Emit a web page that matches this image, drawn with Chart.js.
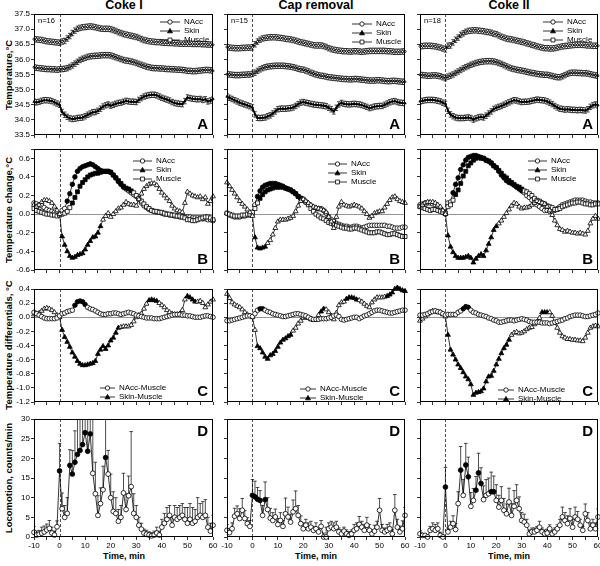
<!DOCTYPE html>
<html>
<head>
<meta charset="utf-8">
<script src="https://cdn.jsdelivr.net/npm/chart.js@4.4.1/dist/chart.umd.min.js"></script>
<style>
  body { margin: 0; background: #fff; width: 600px; height: 566px; position: relative; overflow: hidden;
         font-family: "Liberation Sans", Arial, sans-serif; }
  canvas { position: absolute; }
  .t { position: absolute; font-weight: bold; color: #000; white-space: nowrap; }
  .col { top: -2px; font-size: 12.5px; transform: translateX(-50%); }
  .yt { left: 8px; font-size: 9.5px; transform: translate(-50%, -50%) rotate(-90deg); }
  .xt { top: 551px; font-size: 9px; transform: translateX(-50%); }
</style>
</head>
<body>
<div class="t col" style="left:124px">Coke I</div>
<div class="t col" style="left:316px">Cap removal</div>
<div class="t col" style="left:509px">Coke II</div>
<div class="t yt" style="top:75px">Temperature,°C</div>
<div class="t yt" style="top:210px">Temperature change,°C</div>
<div class="t yt" style="top:345px">Temperature differentials, °C</div>
<div class="t yt" style="top:478px">Locomotion, counts/min</div>
<div class="t xt" style="left:124px">Time, min</div>
<div class="t xt" style="left:316px">Time, min</div>
<div class="t xt" style="left:509px">Time, min</div>
<script>
// ---- Data (1-min bins from -10 to 60 min) ----
var TIME = [-10,-9,-8,-7,-6,-5,-4,-3,-2,-1,0,1,2,3,4,5,6,7,8,9,10,11,12,13,14,15,16,17,18,19,20,
  21,22,23,24,25,26,27,28,29,30,31,32,33,34,35,36,37,38,39,40,41,42,43,44,45,46,47,48,49,50,
  51,52,53,54,55,56,57,58,59,60];

var SEM_A = 0.09; // typical error bar in the absolute temperature panels

// Coke I
var c1A_nacc = [36.67,36.66,36.65,36.64,36.62,36.60,36.59,36.58,36.57,36.56,36.55,
  36.59,36.61,36.69,36.77,36.87,36.95,37.01,37.04,37.06,37.07,
  37.08,37.09,37.08,37.06,37.04,37.02,37.01,37.01,37.01,37.00,
  36.97,36.94,36.90,36.87,36.84,36.82,36.80,36.78,36.76,36.74,
  36.71,36.67,36.64,36.62,36.60,36.59,36.58,36.57,36.57,36.56,
  36.55,36.55,36.54,36.54,36.53,36.53,36.52,36.52,36.52,36.52,
  36.52,36.51,36.51,36.51,36.51,36.50,36.50,36.49,36.49,36.48];
var c1A_muscle = [35.74,35.72,35.71,35.70,35.69,35.68,35.68,35.67,35.67,35.66,35.67,
  35.68,35.69,35.71,35.75,35.80,35.86,35.92,35.98,36.02,36.05,
  36.08,36.10,36.11,36.12,36.12,36.13,36.14,36.14,36.14,36.13,
  36.10,36.07,36.04,36.01,35.98,35.96,35.95,35.93,35.91,35.88,
  35.85,35.82,35.79,35.76,35.74,35.72,35.71,35.71,35.70,35.70,
  35.69,35.68,35.68,35.67,35.67,35.66,35.66,35.65,35.64,35.62,
  35.62,35.61,35.61,35.62,35.63,35.64,35.65,35.65,35.64,35.62];
var c1A_skin = [34.60,34.58,34.60,34.63,34.65,34.65,34.64,34.62,34.58,34.54,34.50,
  34.26,34.17,34.10,34.05,34.03,34.04,34.06,34.07,34.08,34.12,
  34.17,34.21,34.25,34.26,34.30,34.37,34.44,34.48,34.51,34.47,
  34.50,34.53,34.56,34.57,34.60,34.63,34.61,34.60,34.60,34.59,
  34.66,34.72,34.77,34.80,34.82,34.83,34.83,34.81,34.77,34.73,
  34.70,34.67,34.64,34.59,34.56,34.54,34.53,34.52,34.62,34.74,
  34.72,34.70,34.69,34.68,34.69,34.66,34.68,34.61,34.64,34.69];
var c1B_nacc = [0.12,0.11,0.10,0.09,0.07,0.05,0.04,0.03,0.02,0.01,0.00,
  0.04,0.06,0.14,0.22,0.32,0.40,0.46,0.49,0.51,0.52,
  0.53,0.54,0.53,0.51,0.49,0.47,0.46,0.46,0.46,0.45,
  0.42,0.39,0.35,0.32,0.29,0.27,0.25,0.23,0.21,0.19,
  0.16,0.12,0.09,0.07,0.05,0.04,0.03,0.02,0.02,0.01,
  0.00,0.00,-0.01,-0.01,-0.02,-0.02,-0.03,-0.03,-0.03,-0.03,
  -0.03,-0.04,-0.04,-0.04,-0.04,-0.05,-0.05,-0.06,-0.06,-0.07];
var c1B_muscle = [0.06,0.04,0.03,0.02,0.01,0.00,0.00,-0.01,-0.01,-0.02,-0.01,
  0.00,0.01,0.03,0.07,0.12,0.18,0.24,0.30,0.34,0.37,
  0.40,0.42,0.43,0.44,0.44,0.45,0.46,0.46,0.46,0.45,
  0.42,0.39,0.36,0.33,0.30,0.28,0.27,0.25,0.23,0.20,
  0.17,0.14,0.11,0.08,0.06,0.04,0.03,0.03,0.02,0.02,
  0.01,0.00,0.00,-0.01,-0.01,-0.02,-0.02,-0.03,-0.04,-0.06,
  -0.06,-0.07,-0.07,-0.06,-0.05,-0.04,-0.03,-0.03,-0.04,-0.06];
var c1B_skin = [0.10,0.08,0.10,0.13,0.15,0.15,0.14,0.12,0.08,0.04,0.00,
  -0.24,-0.33,-0.40,-0.45,-0.47,-0.46,-0.44,-0.43,-0.42,-0.38,
  -0.33,-0.29,-0.25,-0.24,-0.20,-0.13,-0.06,-0.02,0.01,-0.03,
  0.00,0.03,0.06,0.07,0.10,0.13,0.11,0.10,0.10,0.09,
  0.16,0.22,0.27,0.30,0.32,0.33,0.33,0.31,0.27,0.23,
  0.20,0.17,0.14,0.09,0.06,0.04,0.03,0.02,0.12,0.24,
  0.22,0.20,0.19,0.18,0.19,0.16,0.18,0.11,0.14,0.19];
var c1C_nm = [0.07,0.05,0.03,0.01,-0.01,-0.02,-0.02,-0.02,-0.02,-0.01,0.02,
  0.05,0.06,0.08,0.09,0.10,0.17,0.22,0.23,0.22,0.18,
  0.14,0.12,0.11,0.09,0.07,0.05,0.04,0.04,0.05,0.05,
  0.06,0.06,0.05,0.04,0.05,0.06,0.07,0.06,0.05,0.03,
  0.02,0.01,0.00,-0.01,-0.01,-0.01,-0.02,-0.02,-0.02,-0.01,
  0.00,0.01,0.02,0.03,0.04,0.04,0.04,0.03,0.03,0.02,
  0.02,0.01,0.00,0.00,0.00,0.01,0.02,0.02,0.01,0.00];
var c1C_sm = [0.04,0.05,0.06,0.09,0.12,0.13,0.12,0.10,0.07,0.03,0.00,
  -0.18,-0.28,-0.35,-0.42,-0.50,-0.56,-0.62,-0.66,-0.68,-0.68,
  -0.67,-0.66,-0.65,-0.62,-0.52,-0.46,-0.41,-0.45,-0.40,-0.33,
  -0.29,-0.22,-0.15,-0.14,-0.13,-0.13,-0.13,-0.11,-0.06,0.00,
  0.03,0.05,0.12,0.19,0.24,0.25,0.24,0.23,0.20,0.17,
  0.14,0.10,0.07,0.05,0.04,0.04,0.05,0.10,0.25,0.30,
  0.28,0.25,0.22,0.22,0.23,0.20,0.14,0.18,0.22,0.25];
var c1D_loco = [1.2,0.5,0.7,1.0,1.3,1.8,2.2,1.0,0.5,2.6,16.8,
  7.2,5.0,6.0,18.2,16.0,19.0,21.0,22.0,23.5,26.5,
  21.8,26.2,16.2,11.0,5.5,8.5,12.0,20.2,16.0,10.0,
  6.5,6.0,4.0,5.0,11.2,7.0,10.5,12.8,6.0,5.0,
  3.0,2.0,1.0,0.7,0.5,0.3,0.5,1.0,0.5,2.5,
  3.5,4.5,5.5,3.0,5.0,4.5,5.0,5.5,4.5,3.5,
  4.5,3.5,4.0,5.0,5.5,5.0,5.5,2.5,1.5,3.0];
var c1D_err = [1.5,1.0,1.0,1.5,1.5,1.5,2.0,1.5,1.0,1.5,7.0,
  4.0,3.0,4.0,4.0,6.0,8.0,10,10,10,10,
  10,10,14,8.0,5.0,4.0,6.0,10,6.0,6.0,
  5.0,4.0,3.0,3.0,5.0,4.0,5.0,14,5.0,3.0,
  2.0,1.5,1.0,1.0,0.8,0.8,1.0,1.5,1.0,2.0,
  2.5,3.0,2.5,2.0,3.0,3.0,3.0,3.0,3.0,4.0,
  4.0,4.0,3.0,5.0,3.0,4.0,4.0,2.5,2.0,2.5];

// Cap removal
var c2A_nacc = [36.41,36.39,36.38,36.37,36.37,36.37,36.38,36.38,36.39,36.39,36.40,
  36.50,36.59,36.65,36.69,36.71,36.72,36.73,36.73,36.73,36.72,
  36.71,36.70,36.68,36.67,36.66,36.64,36.62,36.59,36.57,36.55,
  36.53,36.51,36.49,36.47,36.46,36.46,36.46,36.44,36.41,36.37,
  36.34,36.32,36.30,36.29,36.28,36.27,36.27,36.26,36.26,36.27,
  36.27,36.26,36.25,36.26,36.27,36.28,36.28,36.28,36.28,36.28,
  36.28,36.28,36.27,36.27,36.26,36.25,36.25,36.25,36.26,36.26];
var c2A_muscle = [35.51,35.50,35.49,35.48,35.48,35.48,35.49,35.49,35.50,35.50,35.52,
  35.56,35.62,35.67,35.71,35.74,35.76,35.77,35.78,35.79,35.79,
  35.79,35.79,35.78,35.77,35.76,35.74,35.72,35.69,35.67,35.66,
  35.63,35.60,35.56,35.53,35.50,35.48,35.46,35.45,35.43,35.41,
  35.40,35.39,35.38,35.37,35.36,35.35,35.35,35.34,35.34,35.35,
  35.35,35.34,35.33,35.32,35.31,35.30,35.30,35.30,35.31,35.31,
  35.30,35.29,35.28,35.28,35.29,35.29,35.28,35.27,35.26,35.26];
var c2A_skin = [34.77,34.73,34.69,34.65,34.61,34.57,34.54,34.51,34.48,34.45,34.41,
  34.18,34.07,34.06,34.07,34.08,34.12,34.15,34.21,34.28,34.35,
  34.37,34.37,34.37,34.38,34.39,34.41,34.46,34.52,34.57,34.59,
  34.57,34.55,34.53,34.51,34.50,34.49,34.48,34.47,34.45,34.40,
  34.35,34.28,34.40,34.51,34.56,34.53,34.52,34.51,34.52,34.53,
  34.52,34.51,34.49,34.46,34.43,34.39,34.41,34.44,34.45,34.46,
  34.46,34.50,34.54,34.58,34.61,34.62,34.59,34.57,34.56,34.55];
var c2B_nacc = [0.01,-0.01,-0.02,-0.03,-0.03,-0.03,-0.02,-0.02,-0.01,-0.01,0.00,
  0.10,0.19,0.25,0.29,0.31,0.32,0.33,0.33,0.33,0.32,
  0.31,0.30,0.28,0.27,0.26,0.24,0.22,0.19,0.17,0.15,
  0.13,0.11,0.09,0.07,0.06,0.06,0.06,0.04,0.01,-0.03,
  -0.06,-0.08,-0.10,-0.11,-0.12,-0.13,-0.13,-0.14,-0.14,-0.13,
  -0.13,-0.14,-0.15,-0.14,-0.13,-0.12,-0.12,-0.12,-0.12,-0.12,
  -0.12,-0.12,-0.13,-0.13,-0.14,-0.15,-0.15,-0.15,-0.14,-0.14];
var c2B_muscle = [0.01,0.00,-0.01,-0.02,-0.02,-0.02,-0.01,-0.01,0.00,0.00,0.02,
  0.06,0.12,0.17,0.21,0.24,0.26,0.27,0.28,0.29,0.29,
  0.29,0.29,0.28,0.27,0.26,0.24,0.22,0.19,0.17,0.16,
  0.13,0.10,0.06,0.03,0.00,-0.02,-0.04,-0.05,-0.07,-0.09,
  -0.10,-0.11,-0.12,-0.13,-0.14,-0.15,-0.15,-0.16,-0.16,-0.15,
  -0.15,-0.16,-0.17,-0.18,-0.19,-0.20,-0.20,-0.20,-0.19,-0.19,
  -0.20,-0.21,-0.22,-0.22,-0.21,-0.21,-0.22,-0.23,-0.24,-0.24];
var c2B_skin = [0.34,0.30,0.26,0.22,0.18,0.14,0.11,0.08,0.05,0.02,-0.02,
  -0.25,-0.36,-0.37,-0.36,-0.35,-0.31,-0.28,-0.22,-0.15,-0.08,
  -0.06,-0.06,-0.06,-0.05,-0.04,-0.02,0.03,0.09,0.14,0.16,
  0.14,0.12,0.10,0.08,0.07,0.06,0.05,0.04,0.02,-0.03,
  -0.08,-0.15,-0.03,0.08,0.13,0.10,0.09,0.08,0.09,0.10,
  0.09,0.08,0.06,0.03,0.00,-0.04,-0.02,0.01,0.02,0.03,
  0.03,0.07,0.11,0.15,0.18,0.19,0.16,0.14,0.13,0.12];
var c2C_nm = [-0.05,-0.05,-0.04,-0.03,-0.02,-0.01,0.00,0.01,0.02,0.02,0.01,
  0.05,0.10,0.12,0.12,0.10,0.08,0.07,0.05,0.04,0.03,
  0.02,0.01,0.01,0.02,0.03,0.04,0.05,0.05,0.04,0.03,
  0.02,0.00,-0.02,-0.03,-0.03,-0.03,-0.02,-0.02,-0.02,-0.01,
  0.00,0.02,0.03,0.01,-0.03,-0.04,-0.03,-0.02,-0.01,0.00,
  0.00,-0.02,0.00,0.02,0.03,0.05,0.07,0.09,0.10,0.10,
  0.09,0.08,0.07,0.06,0.06,0.07,0.08,0.09,0.10,0.10];
var c2C_sm = [0.33,0.27,0.21,0.18,0.16,0.14,0.11,0.07,0.04,0.02,0.00,
  -0.18,-0.41,-0.44,-0.50,-0.56,-0.59,-0.54,-0.52,-0.48,-0.42,
  -0.36,-0.32,-0.30,-0.27,-0.25,-0.19,-0.15,-0.09,-0.05,-0.01,
  0.00,-0.01,-0.03,-0.04,-0.04,0.03,0.08,0.12,0.11,0.07,
  0.02,-0.03,0.06,0.17,0.21,0.22,0.26,0.28,0.28,0.27,
  0.25,0.24,0.22,0.19,0.16,0.14,0.21,0.25,0.28,0.28,
  0.28,0.29,0.30,0.32,0.35,0.40,0.42,0.40,0.38,0.37];
var c2D_loco = [1.7,1.1,2.1,5.3,5.9,4.7,6.8,4.7,3.4,2.7,10.6,
  10.2,9.6,9.3,5.5,9.5,7.0,4.8,4.2,5.1,3.2,
  4.2,2.7,5.9,5.1,3.8,6.4,7.2,5.5,3.4,2.1,
  3.0,2.1,2.5,1.7,2.1,1.3,2.7,0.0,0.0,2.1,
  2.5,2.1,2.5,1.3,0.8,1.5,0.8,0.4,0.8,1.7,
  2.1,3.2,2.5,1.7,3.0,1.7,0.8,1.5,2.5,6.8,
  1.7,1.3,1.7,2.1,0.8,6.8,2.5,1.3,2.1,5.5];
var c2D_err = [1.5,1.0,1.5,2.0,2.0,2.5,3.0,2.0,1.5,1.5,4.0,
  4.0,3.0,2.5,2.5,4.5,3.0,2.5,2.0,2.0,1.5,
  2.0,1.5,4.0,2.5,2.0,3.0,4.5,2.5,2.0,1.5,
  1.5,1.5,1.5,1.0,1.5,1.0,1.5,1.0,2.5,1.5,
  1.5,1.5,1.5,1.0,1.0,1.0,1.0,1.0,1.0,1.5,
  1.5,2.0,1.5,1.5,2.0,1.5,1.0,1.5,1.5,3.0,
  1.5,1.0,1.5,1.5,1.0,4.0,2.0,1.5,2.0,2.0];

// Coke II
var c3A_nacc = [36.43,36.44,36.45,36.45,36.45,36.44,36.43,36.41,36.39,36.36,36.33,
  36.45,36.46,36.56,36.65,36.72,36.81,36.86,36.91,36.94,36.95,
  36.96,36.96,36.95,36.94,36.93,36.91,36.90,36.88,36.85,36.83,
  36.79,36.75,36.72,36.69,36.67,36.66,36.64,36.62,36.60,36.58,
  36.56,36.53,36.51,36.48,36.46,36.43,36.41,36.39,36.37,36.37,
  36.36,36.36,36.37,36.39,36.41,36.43,36.44,36.45,36.46,36.47,
  36.48,36.48,36.48,36.48,36.47,36.46,36.46,36.45,36.45,36.45];
var c3A_muscle = [35.49,35.48,35.47,35.46,35.46,35.47,35.47,35.46,35.44,35.41,35.38,
  35.43,35.46,35.50,35.55,35.60,35.65,35.70,35.74,35.78,35.82,
  35.85,35.88,35.90,35.92,35.93,35.94,35.94,35.94,35.93,35.91,
  35.88,35.85,35.81,35.77,35.73,35.70,35.68,35.66,35.64,35.63,
  35.61,35.59,35.57,35.55,35.54,35.52,35.51,35.50,35.49,35.49,
  35.47,35.45,35.43,35.41,35.41,35.44,35.48,35.52,35.55,35.56,
  35.56,35.55,35.55,35.54,35.54,35.53,35.51,35.49,35.47,35.46];
var c3A_skin = [34.61,34.63,34.65,34.66,34.66,34.66,34.65,34.63,34.61,34.57,34.53,
  34.30,34.18,34.12,34.08,34.06,34.06,34.06,34.07,34.08,34.06,
  34.01,34.05,34.08,34.10,34.08,34.14,34.21,34.28,34.36,34.40,
  34.43,34.46,34.50,34.54,34.58,34.62,34.65,34.64,34.61,34.59,
  34.60,34.60,34.61,34.63,34.65,34.67,34.66,34.65,34.64,34.61,
  34.57,34.52,34.46,34.41,34.37,34.36,34.34,34.35,34.34,34.33,
  34.33,34.32,34.33,34.32,34.31,34.35,34.43,34.48,34.51,34.48];
var c3B_nacc = [0.10,0.11,0.12,0.12,0.12,0.11,0.10,0.08,0.06,0.03,0.00,
  0.12,0.13,0.23,0.32,0.39,0.48,0.53,0.58,0.61,0.62,
  0.63,0.63,0.62,0.61,0.60,0.58,0.57,0.55,0.52,0.50,
  0.46,0.42,0.39,0.36,0.34,0.33,0.31,0.29,0.27,0.25,
  0.23,0.20,0.18,0.15,0.13,0.10,0.08,0.06,0.04,0.04,
  0.03,0.03,0.04,0.06,0.08,0.10,0.11,0.12,0.13,0.14,
  0.15,0.15,0.15,0.15,0.14,0.13,0.13,0.12,0.12,0.12];
var c3B_muscle = [0.08,0.07,0.06,0.05,0.04,0.05,0.05,0.04,0.03,0.02,0.01,
  0.08,0.10,0.15,0.21,0.26,0.33,0.41,0.46,0.52,0.55,
  0.58,0.60,0.61,0.60,0.60,0.58,0.57,0.55,0.52,0.50,
  0.47,0.44,0.41,0.39,0.36,0.34,0.32,0.30,0.29,0.27,
  0.25,0.24,0.22,0.20,0.17,0.15,0.14,0.12,0.11,0.09,
  0.08,0.07,0.05,0.05,0.06,0.08,0.09,0.10,0.11,0.12,
  0.12,0.13,0.13,0.12,0.11,0.11,0.10,0.10,0.11,0.11];
var c3B_skin = [0.08,0.10,0.12,0.13,0.13,0.13,0.12,0.10,0.08,0.04,0.00,
  -0.23,-0.35,-0.41,-0.45,-0.47,-0.47,-0.47,-0.46,-0.45,-0.47,
  -0.52,-0.48,-0.45,-0.43,-0.45,-0.39,-0.32,-0.25,-0.17,-0.13,
  -0.10,-0.07,-0.03,0.01,0.05,0.09,0.12,0.11,0.08,0.06,
  0.07,0.07,0.08,0.10,0.12,0.14,0.13,0.12,0.11,0.08,
  0.04,-0.01,-0.07,-0.12,-0.16,-0.17,-0.19,-0.18,-0.19,-0.20,
  -0.20,-0.21,-0.20,-0.21,-0.22,-0.18,-0.10,-0.05,-0.02,-0.05];
var c3C_nm = [0.03,0.03,0.04,0.05,0.07,0.08,0.09,0.08,0.07,0.05,0.03,
  0.04,0.04,0.04,0.04,0.07,0.09,0.12,0.15,0.14,0.10,
  0.07,0.06,0.04,0.03,0.02,0.01,-0.01,-0.02,-0.04,-0.05,
  -0.07,-0.07,-0.06,-0.05,-0.04,-0.04,-0.05,-0.04,-0.03,-0.02,
  -0.03,-0.04,-0.06,-0.07,-0.07,-0.07,-0.07,-0.08,-0.08,-0.08,
  -0.09,-0.08,-0.07,-0.06,-0.05,-0.04,-0.02,-0.01,0.01,0.02,
  0.03,0.03,0.03,0.02,0.01,0.01,0.02,0.03,0.04,0.06];
var c3C_sm = [-0.05,-0.02,0.01,0.04,0.07,0.09,0.09,0.07,0.07,0.04,0.01,
  -0.25,-0.46,-0.53,-0.60,-0.67,-0.72,-0.78,-0.84,-0.88,-0.95,
  -1.10,-1.07,-1.06,-1.05,-1.01,-0.91,-0.84,-0.83,-0.76,-0.67,
  -0.59,-0.51,-0.44,-0.39,-0.32,-0.25,-0.22,-0.21,-0.23,-0.22,
  -0.20,-0.17,-0.15,-0.14,-0.10,-0.07,-0.01,0.07,0.07,0.07,
  0.07,0.02,-0.08,-0.15,-0.22,-0.27,-0.29,-0.31,-0.31,-0.32,
  -0.32,-0.33,-0.33,-0.34,-0.29,-0.22,-0.15,-0.13,-0.12,-0.13];
var c3D_loco = [0.8,0.4,0.4,0.0,1.7,2.1,1.7,2.1,0.4,0.0,12.7,
  1.3,2.5,3.4,1.9,8.5,17.0,10.6,18.3,15.3,7.8,
  9.3,11.9,16.3,13.6,9.5,10.6,11.0,11.5,11.5,9.3,
  7.6,9.3,6.8,5.9,8.9,5.5,7.8,9.3,7.2,4.2,
  3.8,3.0,0.8,1.3,1.3,1.7,2.5,1.3,0.8,1.0,
  2.1,0.8,1.3,2.1,3.0,5.1,4.2,3.4,4.7,2.5,
  5.1,4.5,3.0,1.7,5.9,4.2,2.1,3.0,2.1,5.1];
var c3D_err = [0.8,0.5,0.5,0.5,1.0,1.5,1.5,1.5,0.8,0.5,5.0,
  1.0,1.5,2.0,1.5,3.0,6.0,4.0,5.5,5.0,3.5,
  3.0,3.5,5.0,4.0,3.5,4.0,4.0,5.0,4.0,4.0,
  3.0,3.5,3.0,2.5,3.5,3.0,4.0,4.0,3.0,2.0,
  2.0,1.5,1.0,1.0,1.0,1.0,1.5,1.0,1.0,1.0,
  1.0,1.0,1.0,1.0,1.5,2.5,2.0,2.0,2.5,2.0,
  2.5,2.0,1.5,1.0,2.5,2.0,1.5,1.5,1.5,2.0];

// Time ranges drawn with filled (significant) markers
var SIG = {
  c1B: { nacc: [[3, 25]], muscle: [[5, 28]], skin: [[1, 16]] },
  c1C: { nm: [[6, 10]], sm: [[1, 23], [35, 38], [50, 53]] },
  c1D: [[0, 0], [4, 12], [18, 18]],
  c2B: { nacc: [[2, 19]], muscle: [[3, 19]], skin: [[1, 5]] },
  c2C: { nm: [[3, 4]], sm: [[2, 15], [27, 28], [37, 41], [53, 60]] },
  c2D: [[0, 3], [5, 5]],
  c3B: { nacc: [[3, 30]], muscle: [[4, 30]], skin: [[1, 20]] },
  c3C: { nm: [[7, 9]], sm: [[1, 25], [38, 40]] },
  c3D: [[0, 0], [6, 6], [8, 9], [12, 14], [18, 19]]
};
var N_RATS = ['n=16', 'n=15', 'n=18'];

// ---- Layout (page px) ----
var COLS = [[34, 213], [227, 405], [420, 598]];
var ROWS = { A: [14, 135], B: [149, 270], C: [289, 402], D: [419, 537] };
var YCFG = {
  A: { min: 33.5, max: 37.5, step: 0.5 },
  B: { min: -0.6, max: 0.7, step: 0.2 },
  C: { min: -1.2, max: 0.4, step: 0.2 },
  D: { min: 0, max: 30, step: 5 }
};
var LEG = {
  A: [['NAcc', 'circle', false], ['Skin', 'triangle', true], ['Muscle', 'rect', false]],
  B: [['NAcc', 'circle', false], ['Skin', 'triangle', true], ['Muscle', 'rect', false]],
  C: [['NAcc-Muscle', 'circle', false], ['Skin-Muscle', 'triangle', true]]
};
// legend anchor (offset from plot top-left): x of line start, y of first row, line length
var LEGPOS = {
  A: [[126, 3, 20], [125, 5, 20], [123, 3, 20]],
  B: [[99, 7, 19], [101, 10, 19], [108, 7, 19]],
  C: [[66, 94, 15], [73, 95, 16], [78, 96, 16]]
};

Chart.defaults.font.family = '"Liberation Sans", Arial, sans-serif';
Chart.defaults.font.size = 8;
Chart.defaults.color = '#000';

function xy(vals) { return vals.map(function (v, i) { return { x: TIME[i], y: v }; }); }
function fills(ranges) {
  return TIME.map(function (t) {
    return ranges.some(function (r) { return t >= r[0] && t <= r[1]; }) ? '#000' : '#fff';
  });
}
function series(vals, style, o) {
  o = o || {};
  return {
    data: xy(vals), borderColor: '#000', borderWidth: o.bw || 0.8, tension: 0,
    pointStyle: style, pointRadius: o.r || 2.4, pointBorderWidth: 0.8,
    pointBorderColor: '#000', pointBackgroundColor: o.fill || '#fff',
    err: o.err, errUp: o.errUp, cap: o.cap || 1.6, clip: 4
  };
}

function fmtY(row, v) {
  var z = Math.abs(v) < 1e-9 ? 0 : v;
  if (row === 'D') return String(Math.round(z));
  if (row === 'B' && Math.abs(Math.round(z * 10)) % 2 === 1) return '';
  return z.toFixed(1);
}

function line(ctx, x1, y1, x2, y2) { ctx.beginPath(); ctx.moveTo(x1, y1); ctx.lineTo(x2, y2); ctx.stroke(); }

function marker(ctx, style, x, y, r, filled) {
  ctx.beginPath();
  if (style === 'circle') ctx.arc(x, y, r, 0, Math.PI * 2);
  else if (style === 'triangle') {
    ctx.moveTo(x, y - r); ctx.lineTo(x - 0.95 * r, y + 0.7 * r); ctx.lineTo(x + 0.95 * r, y + 0.7 * r); ctx.closePath();
  } else ctx.rect(x - r * 0.75, y - r * 0.75, r * 1.5, r * 1.5);
  ctx.fillStyle = filled ? '#000' : '#fff'; ctx.fill();
  ctx.lineWidth = 0.8; ctx.strokeStyle = '#000'; ctx.stroke();
}

// error bars drawn under each dataset's markers
var errBars = {
  id: 'errBars',
  beforeDatasetDraw: function (chart, args) {
    var ds = chart.data.datasets[args.index];
    if (ds.err == null) return;
    var ctx = chart.ctx, a = chart.chartArea, ys = chart.scales.y;
    ctx.save();
    ctx.beginPath(); ctx.rect(a.left, a.top, a.right - a.left, a.bottom - a.top); ctx.clip();
    ctx.strokeStyle = '#000'; ctx.lineWidth = 0.7;
    args.meta.data.forEach(function (p, i) {
      var e = typeof ds.err === 'number' ? ds.err : ds.err[i];
      var v = ds.data[i].y;
      var yt = ys.getPixelForValue(v + e);
      var yb = ds.errUp ? p.y : ys.getPixelForValue(v - e);
      line(ctx, p.x, yt, p.x, yb);
      line(ctx, p.x - ds.cap, yt, p.x + ds.cap, yt);
      if (!ds.errUp) line(ctx, p.x - ds.cap, yb, p.x + ds.cap, yb);
    });
    ctx.restore();
  }
};

var deco = {
  id: 'deco',
  beforeDatasetsDraw: function (chart) {
    var o = chart.canvas._deco, ctx = chart.ctx, a = chart.chartArea, s = chart.scales;
    ctx.save();
    if (o.row === 'B' || o.row === 'C') {
      var y0 = Math.round(s.y.getPixelForValue(0)) + 0.5;
      ctx.strokeStyle = '#666'; ctx.lineWidth = 0.7;
      line(ctx, a.left, y0, a.right, y0);
    }
    var x0 = Math.round(s.x.getPixelForValue(0)) + 0.5;
    ctx.strokeStyle = '#222'; ctx.lineWidth = 0.8; ctx.setLineDash([3, 2]);
    line(ctx, x0, a.top, x0, a.bottom);
    ctx.restore();
  },
  afterDraw: function (chart) {
    var o = chart.canvas._deco, ctx = chart.ctx, a = chart.chartArea;
    ctx.save();
    ctx.strokeStyle = '#000'; ctx.lineWidth = 1;
    ctx.strokeRect(a.left + 0.5, a.top + 0.5, a.right - a.left - 1, a.bottom - a.top - 1);
    ctx.fillStyle = '#000';
    // legend
    if (LEG[o.row]) {
      var lp = LEGPOS[o.row][o.col];
      ctx.font = '8px "Liberation Sans", Arial, sans-serif';
      ctx.textBaseline = 'middle'; ctx.textAlign = 'left';
      LEG[o.row].forEach(function (it, k) {
        var y = a.top + lp[1] + 5 + k * 9, x1 = a.left + lp[0], x2 = x1 + lp[2];
        ctx.strokeStyle = '#000'; ctx.lineWidth = 0.8;
        line(ctx, x1, y, x2, y);
        marker(ctx, it[1], (x1 + x2) / 2, y, it[1] === 'circle' ? 2.2 : 2.6, it[2]);
        ctx.fillStyle = '#000';
        ctx.fillText(it[0], x2 + 4, y);
      });
    }
    // panel letter
    ctx.font = 'bold 15px "Liberation Sans", Arial, sans-serif';
    ctx.textAlign = 'right'; ctx.textBaseline = 'alphabetic';
    ctx.fillText(o.row, a.right - 5, o.row === 'D' ? a.top + 17 : a.bottom - 6);
    if (o.row === 'A') {
      ctx.font = '7.5px "Liberation Sans", Arial, sans-serif';
      ctx.textAlign = 'left'; ctx.textBaseline = 'middle';
      ctx.fillText(N_RATS[o.col], a.left + 4, a.top + 7);
    }
    ctx.restore();
  }
};

function panel(col, row, datasets) {
  var x0 = COLS[col][0], x1 = COLS[col][1], y0 = ROWS[row][0], y1 = ROWS[row][1];
  var L = col === 0 ? 34 : 10, R = 8, T = 6, B = row === 'D' ? 16 : 6;
  var cv = document.createElement('canvas');
  cv.width = x1 - x0 + L + R; cv.height = y1 - y0 + T + B;
  cv.style.left = (x0 - L) + 'px'; cv.style.top = (y0 - T) + 'px';
  cv._deco = { row: row, col: col };
  document.body.appendChild(cv);
  var yc = YCFG[row];
  new Chart(cv, {
    type: 'line',
    data: { datasets: datasets },
    options: {
      responsive: false, animation: false, devicePixelRatio: 1,
      layout: { padding: { top: T, right: R, left: 0, bottom: 0 } },
      plugins: { legend: { display: false }, tooltip: { enabled: false } },
      scales: {
        x: {
          type: 'linear', min: -10, max: 60,
          ticks: { stepSize: 5, padding: 1, maxRotation: 0, autoSkip: false,
            callback: function (v) { return (row === 'D' && v % 10 === 0) ? String(v) : ''; } },
          grid: { drawOnChartArea: false, tickLength: 3, color: '#000', lineWidth: 0.8 },
          border: { display: false },
          afterFit: function (s) { s.height = B; s.paddingLeft = 0; s.paddingRight = 0; }
        },
        y: {
          min: yc.min, max: yc.max,
          ticks: { stepSize: yc.step, padding: 1, autoSkip: false,
            callback: function (v) { return col === 0 ? fmtY(row, v) : ''; } },
          grid: { drawOnChartArea: false, tickLength: 3, color: '#000', lineWidth: 0.8 },
          border: { display: false },
          afterFit: function (s) { s.width = L; s.paddingTop = 0; s.paddingBottom = 0; }
        }
      }
    },
    plugins: [deco, errBars]
  });
}

var SETS = [
  { A: [c1A_nacc, c1A_skin, c1A_muscle], B: [c1B_nacc, c1B_skin, c1B_muscle], C: [c1C_nm, c1C_sm],
    D: [c1D_loco, c1D_err], sB: SIG.c1B, sC: SIG.c1C, sD: SIG.c1D },
  { A: [c2A_nacc, c2A_skin, c2A_muscle], B: [c2B_nacc, c2B_skin, c2B_muscle], C: [c2C_nm, c2C_sm],
    D: [c2D_loco, c2D_err], sB: SIG.c2B, sC: SIG.c2C, sD: SIG.c2D },
  { A: [c3A_nacc, c3A_skin, c3A_muscle], B: [c3B_nacc, c3B_skin, c3B_muscle], C: [c3C_nm, c3C_sm],
    D: [c3D_loco, c3D_err], sB: SIG.c3B, sC: SIG.c3C, sD: SIG.c3D }
];

SETS.forEach(function (s, col) {
  panel(col, 'A', [
    series(s.A[0], 'circle', { r: 1.1, bw: 1.6, err: SEM_A, cap: 1.8 }),
    series(s.A[2], 'rect', { r: 1.2, bw: 1.6, err: SEM_A, cap: 1.8 }),
    series(s.A[1], 'triangle', { r: 1.3, bw: 1.6, fill: '#000', err: SEM_A, cap: 1.8 })
  ]);
  panel(col, 'B', [
    series(s.B[1], 'triangle', { r: 2.8, fill: fills(s.sB.skin) }),
    series(s.B[2], 'rect', { r: 2.8, fill: fills(s.sB.muscle) }),
    series(s.B[0], 'circle', { r: 2.3, fill: fills(s.sB.nacc) })
  ]);
  panel(col, 'C', [
    series(s.C[0], 'circle', { r: 2.3, fill: fills(s.sC.nm) }),
    series(s.C[1], 'triangle', { r: 2.8, fill: fills(s.sC.sm) })
  ]);
  panel(col, 'D', [
    series(s.D[0], 'circle', { r: 2.4, fill: fills(s.sD), err: s.D[1], errUp: true, cap: 1.8 })
  ]);
});
</script>
</body>
</html>
